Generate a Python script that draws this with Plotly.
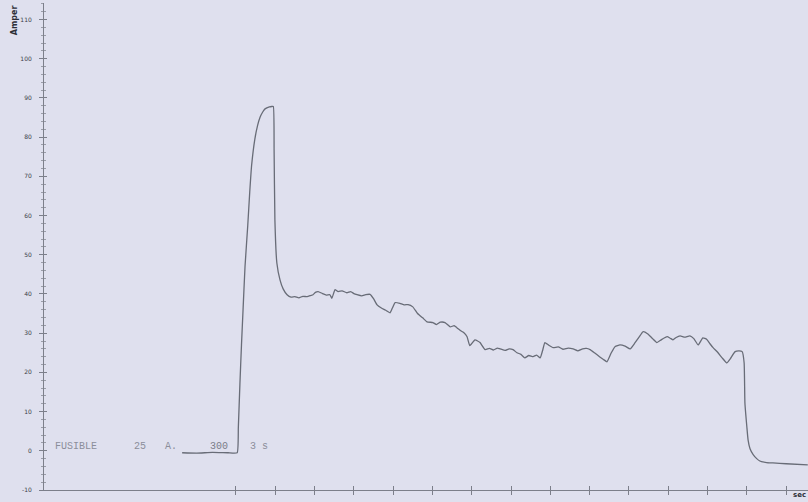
import plotly.graph_objects as go

# time (s) and current (A)
time_s = [-1.37, -1.0, -0.6, -0.2, 0.03, 0.06, 0.10, 0.14, 0.18, 0.23, 0.30, 0.35, 0.40, 0.48, 0.55, 0.61, 0.68, 0.74, 0.85, 0.91, 0.95,
          0.97, 0.99, 1.04, 1.12, 1.20, 1.30, 1.40, 1.50, 1.60, 1.70, 1.81, 1.90, 1.96, 2.02, 2.09, 2.20,
          2.30, 2.39, 2.44, 2.52, 2.60, 2.70, 2.82, 2.92, 3.00, 3.08, 3.20, 3.30, 3.41, 3.50, 3.59, 3.70,
          3.80, 3.92, 3.98, 4.05, 4.17, 4.28, 4.38, 4.50, 4.62, 4.75, 4.86, 5.01, 5.10, 5.20, 5.32, 5.45,
          5.55, 5.62, 5.72, 5.80, 5.88, 5.95, 6.08, 6.15, 6.21, 6.34, 6.45, 6.55, 6.65, 6.72, 6.85, 6.95,
          7.05, 7.15, 7.25, 7.35, 7.45, 7.56, 7.65, 7.74, 7.80, 7.86, 7.95, 8.07, 8.20, 8.32, 8.45, 8.58,
          8.70, 8.82, 8.92, 9.01, 9.12, 9.25, 9.35, 9.44, 9.55, 9.65, 9.77, 9.90, 10.03, 10.15, 10.25, 10.36,
          10.48, 10.60, 10.71, 10.82, 10.97, 11.05, 11.12, 11.20, 11.30, 11.42, 11.55, 11.65, 11.76, 11.88,
          11.98, 12.06, 12.14, 12.25, 12.37, 12.49, 12.58, 12.70, 12.80, 12.88, 12.93, 12.95, 13.00, 13.03,
          13.08, 13.16, 13.25, 13.33, 13.50, 13.66, 14.00, 14.55]
current_a = [-0.5, -0.6, -0.4, -0.5, -0.5, 6.0, 17.0, 27.0, 36.0, 47.0, 57.5, 66.0, 73.0, 79.5, 83.0, 85.0, 86.4, 87.2, 87.7, 87.8, 87.8,
             76.8, 58.9, 47.9, 43.6, 41.3, 39.8, 39.2, 39.3, 39.0, 39.4, 39.3, 39.6, 39.8, 40.4, 40.6, 40.1,
             39.7, 39.8, 38.9, 41.1, 40.6, 40.8, 40.3, 40.6, 40.1, 39.8, 39.5, 39.8, 39.9, 38.8, 37.2, 36.4,
             35.9, 35.2, 36.4, 37.8, 37.6, 37.2, 37.3, 36.7, 35.0, 33.9, 32.9, 32.7, 32.2, 32.8, 32.7, 31.6,
             31.9, 31.4, 30.6, 30.1, 29.1, 26.8, 28.3, 28.0, 27.6, 25.8, 26.1, 25.7, 26.2, 26.0, 25.6, 26.0,
             25.8, 25.0, 24.6, 23.7, 24.3, 24.0, 24.4, 23.7, 25.5, 27.6, 27.0, 26.3, 26.5, 25.9, 26.2, 26.0,
             25.5, 26.0, 26.1, 25.8, 25.0, 24.0, 23.3, 22.7, 25.0, 26.6, 27.0, 26.7, 26.0, 27.5, 28.9, 30.4,
             29.8, 28.6, 27.6, 28.3, 29.1, 28.7, 28.3, 28.9, 29.3, 29.0, 29.3, 28.6, 27.0, 28.8, 28.4,
             27.3, 26.3, 25.2, 23.7, 22.4, 23.5, 25.3, 25.5, 25.3, 22.4, 12.2, 6.0, 2.8,
             0.5, -1.0, -2.0, -2.6, -3.0, -3.1, -3.3, -3.6]

ytick_vals = [-10, 0, 10, 20, 30, 40, 50, 60, 70, 80, 90, 100, 110]
ytick_text = ["-10", "0", "10", "20", "30", "40", "50", "60", "70", "80", "90", "100", "110"]
xtick_vals = list(range(0, 15))

bg = "#dfe0ee"
axis_col = "#7c7f8a"

fig = go.Figure()
fig.add_trace(go.Scatter(x=time_s, y=current_a, mode="lines",
                         line=dict(color="#686c77", width=1.3, shape="spline", smoothing=0.4),
                         showlegend=False, hoverinfo="skip"))
# invisible trace to activate the overlaid axis (crossing ticks)
fig.add_trace(go.Scatter(x=[0], y=[0], xaxis="x2", yaxis="y2", mode="markers",
                         marker=dict(opacity=0), showlegend=False, hoverinfo="skip"))

xr = [-4.885, 14.555]
yr = [-10, 114.2]

fig.update_layout(
    width=808, height=502,
    margin=dict(l=44, r=0, t=3, b=12, autoexpand=False),
    paper_bgcolor=bg, plot_bgcolor=bg,
    font=dict(family="DejaVu Sans", color="#3a3d47"),
    xaxis=dict(range=xr, showgrid=False, zeroline=False, showline=True, linecolor=axis_col,
               linewidth=1, tickvals=xtick_vals, ticks="outside", ticklen=4, tickcolor=axis_col,
               showticklabels=False, automargin=False),
    yaxis=dict(range=yr, showgrid=False, zeroline=False, showline=True, linecolor=axis_col,
               linewidth=1, tickvals=ytick_vals, ticktext=ytick_text, ticks="outside", ticklen=4,
               tickcolor=axis_col, tickfont=dict(size=6, color="#3a3d48", family="DejaVu Sans"),
               ticklabelstandoff=6, automargin=False,
               minor=dict(dtick=2, ticks="outside", ticklen=2, tickcolor="#9a9da8")),
    xaxis2=dict(range=xr, overlaying="x", anchor="y2", showgrid=False, zeroline=False,
                tickvals=xtick_vals, ticks="inside", ticklen=4, tickcolor=axis_col,
                showticklabels=False, side="bottom", automargin=False),
    yaxis2=dict(range=yr, overlaying="y", anchor="x2", showgrid=False, zeroline=False,
                tickvals=ytick_vals, ticks="inside", ticklen=3, tickcolor=axis_col,
                showticklabels=False, automargin=False,
                minor=dict(dtick=2, ticks="inside", ticklen=2, tickcolor="#9a9da8")),
)

label_font = dict(family="Liberation Mono", size=10, color="#8b8e9a")
fig.add_annotation(x=-4.66, y=1.0, text="FUSIBLE", showarrow=False, xanchor="left",
                   yanchor="middle", font=label_font)
fig.add_annotation(x=-2.65, y=1.0, text="25", showarrow=False, xanchor="left",
                   yanchor="middle", font=label_font)
fig.add_annotation(x=-1.86, y=1.0, text="A.", showarrow=False, xanchor="left",
                   yanchor="middle", font=label_font)
fig.add_annotation(x=-0.72, y=1.0, text="300", showarrow=False, xanchor="left",
                   yanchor="middle", font=dict(family="Liberation Mono", size=10, color="#7a7d88"))
fig.add_annotation(x=0.30, y=1.0, text="3 s", showarrow=False, xanchor="left",
                   yanchor="middle", font=label_font)

fig.add_annotation(xref="paper", yref="paper", x=-0.039, y=0.965, text="<b>Amper</b>",
                   textangle=-90, showarrow=False, xanchor="center", yanchor="middle",
                   font=dict(family="DejaVu Sans", size=8, color="#2c2e36"))
fig.add_annotation(xref="paper", yref="paper", x=1.0, y=-0.011, text="<b>sec</b>",
                   showarrow=False, xanchor="right", yanchor="middle",
                   font=dict(family="DejaVu Sans", size=7, color="#2c2e36"))

fig.write_html("out.html", config={"displayModeBar": False},
               post_script="document.body.style.margin='0';document.body.style.overflow='hidden';")
